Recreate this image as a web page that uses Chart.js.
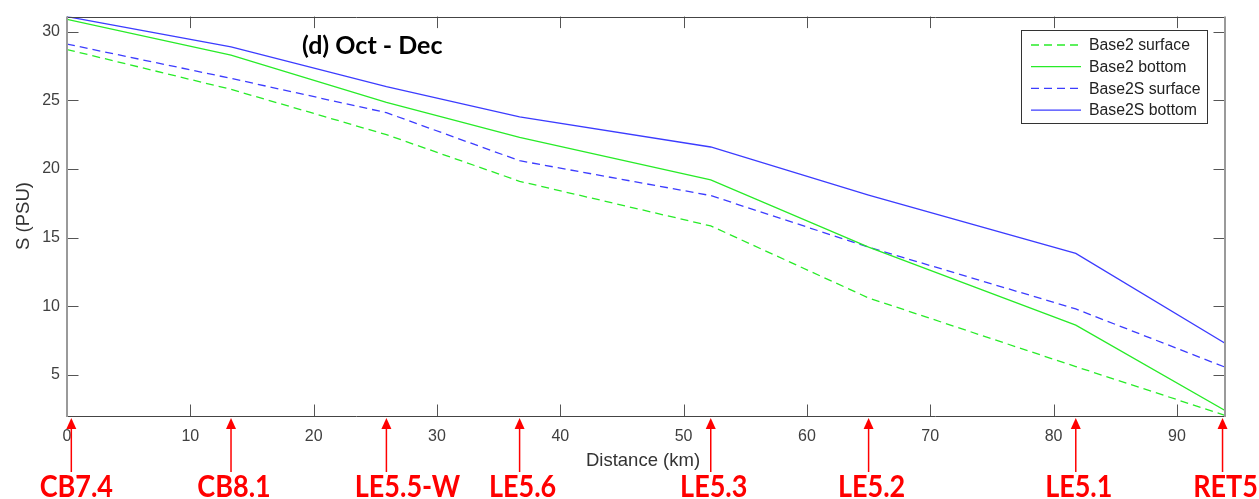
<!DOCTYPE html>
<html>
<head>
<meta charset="utf-8">
<script src="https://cdn.jsdelivr.net/npm/chart.js@4.4.1/dist/chart.umd.min.js"></script>
<style>
html, body { margin: 0; padding: 0; background: #fff; }
#wrap { width: 1259px; height: 499px; }
</style>
</head>
<body>
<div id="wrap"><canvas id="myChart" width="1259" height="499"></canvas></div>
<script>
// values
var distanceKm = [0, 13.3, 25.9, 36.7, 52.2, 65.0, 81.8, 93.9];
var base2Surface = [28.7, 25.8, 22.5, 19.1, 15.85, 10.6, 5.6, 2.05];
var base2Bottom = [30.9, 28.3, 24.85, 22.3, 19.2, 14.3, 8.62, 2.4];
var base2SSurface = [29.1, 26.6, 24.1, 20.6, 18.06, 14.3, 9.8, 5.56];
var base2SBottom = [31.1, 28.9, 26.0, 23.8, 21.6, 18.1, 13.85, 7.3];

var stationNames = ['CB7.4', 'CB8.1', 'LE5.5-W', 'LE5.6', 'LE5.3', 'LE5.2', 'LE5.1', 'RET5'];
var stationKm = [0.35, 13.3, 25.9, 36.7, 52.2, 65.0, 81.8, 93.7];

var xTicks = [0, 10, 20, 30, 40, 50, 60, 70, 80, 90];
var yTicks = [5, 10, 15, 20, 25, 30];

var GREEN = 'rgb(40,235,40)';
var BLUE = 'rgb(60,60,255)';

function toPoints(ys) {
    return distanceKm.map(function (x, i) { return { x: x, y: ys[i] }; });
}

// axes box, inward ticks, titles, legend and station arrows
var figurePlugin = {
    id: 'figure',
    afterDatasetsDraw: function (chart) {
        var ctx = chart.ctx;
        var a = chart.chartArea;
        var xs = chart.scales.x, ys = chart.scales.y;
        var tl = 11.5;
        ctx.save();

        // ticks
        ctx.strokeStyle = '#555';
        ctx.lineWidth = 1;
        ctx.beginPath();
        xTicks.forEach(function (v) {
            var px = Math.round(xs.getPixelForValue(v)) + 0.5;
            ctx.moveTo(px, a.bottom); ctx.lineTo(px, a.bottom - tl);
            ctx.moveTo(px, a.top); ctx.lineTo(px, a.top + tl);
        });
        yTicks.forEach(function (v) {
            var py = Math.round(ys.getPixelForValue(v)) + 0.5;
            ctx.moveTo(a.left, py); ctx.lineTo(a.left + tl, py);
            ctx.moveTo(a.right, py); ctx.lineTo(a.right - tl, py);
        });
        ctx.stroke();

        // box
        ctx.strokeStyle = '#444';
        ctx.beginPath();
        ctx.moveTo(a.left, Math.round(a.top) + 0.5); ctx.lineTo(a.right, Math.round(a.top) + 0.5);
        ctx.moveTo(a.left, Math.round(a.bottom) + 0.5); ctx.lineTo(a.right, Math.round(a.bottom) + 0.5);
        ctx.stroke();
        ctx.strokeStyle = '#9a9a9a';
        ctx.lineWidth = 2;
        ctx.beginPath();
        ctx.moveTo(a.left, a.top); ctx.lineTo(a.left, a.bottom + 1);
        ctx.moveTo(a.right, a.top); ctx.lineTo(a.right, a.bottom + 1);
        ctx.stroke();

        // panel title
        ctx.fillStyle = '#000';
        ctx.font = 'bold 25px Lato';
        ctx.textAlign = 'left';
        ctx.textBaseline = 'middle';
        ctx.fillText('(d) Oct - Dec', 302, 46);

        // axis titles
        ctx.fillStyle = '#333';
        ctx.font = '18.5px "Liberation Sans"';
        ctx.textAlign = 'center';
        ctx.fillText('Distance (km)', 643, 461);
        ctx.save();
        ctx.translate(24, 216);
        ctx.rotate(-Math.PI / 2);
        ctx.fillText('S (PSU)', 0, 0);
        ctx.restore();

        // legend
        var lx = 1021, ly = 30, lw = 186, lh = 93;
        ctx.fillStyle = '#fff';
        ctx.fillRect(lx, ly, lw, lh);
        ctx.strokeStyle = '#333';
        ctx.lineWidth = 1;
        ctx.strokeRect(lx + 0.5, ly + 0.5, lw, lh);
        ctx.font = '15.8px "Liberation Sans"';
        ctx.textAlign = 'left';
        ctx.fillStyle = '#222';
        chart.data.datasets.forEach(function (ds, i) {
            var y = 45 + i * 21.7;
            ctx.strokeStyle = ds.borderColor;
            ctx.lineWidth = 1.3;
            ctx.setLineDash(ds.borderDash || []);
            ctx.beginPath();
            ctx.moveTo(1031, y); ctx.lineTo(1081, y);
            ctx.stroke();
            ctx.setLineDash([]);
            ctx.fillText(ds.label, 1089, y + 1);
        });

        // station arrows
        var labelShift = { 'CB7.4': 5, 'LE5.5-W': 21 };
        ctx.strokeStyle = '#ff0000';
        ctx.fillStyle = '#ff0000';
        ctx.lineWidth = 1.5;
        ctx.font = 'bold 30px Lato';
        ctx.textAlign = 'center';
        ctx.textBaseline = 'alphabetic';
        stationKm.forEach(function (km, i) {
            var px = xs.getPixelForValue(km);
            ctx.beginPath();
            ctx.moveTo(px, 427); ctx.lineTo(px, 472);
            ctx.stroke();
            ctx.beginPath();
            ctx.moveTo(px, 418); ctx.lineTo(px - 5, 429); ctx.lineTo(px + 5, 429);
            ctx.closePath();
            ctx.fill();
            var name = stationNames[i];
            var shift = labelShift[name] !== undefined ? labelShift[name] : 3;
            ctx.save();
            ctx.translate(px + shift, 497);
            ctx.scale(0.9, 1);
            ctx.fillText(name, 0, 0);
            ctx.restore();
        });

        ctx.restore();
    }
};

var ctx = document.getElementById('myChart').getContext('2d');
var myChart = new Chart(ctx, {
    type: 'line',
    data: {
        datasets: [{
            label: 'Base2 surface',
            data: toPoints(base2Surface),
            borderColor: GREEN,
            borderDash: [8, 5]
        }, {
            label: 'Base2 bottom',
            data: toPoints(base2Bottom),
            borderColor: GREEN
        }, {
            label: 'Base2S surface',
            data: toPoints(base2SSurface),
            borderColor: BLUE,
            borderDash: [8, 5]
        }, {
            label: 'Base2S bottom',
            data: toPoints(base2SBottom),
            borderColor: BLUE
        }]
    },
    options: {
        responsive: false,
        animation: false,
        devicePixelRatio: 1,
        layout: { padding: { left: 0, top: 12, right: 34, bottom: 0 } },
        elements: {
            line: { borderWidth: 1.3, tension: 0, fill: false },
            point: { radius: 0 }
        },
        plugins: {
            legend: { display: false },
            tooltip: { enabled: false }
        },
        scales: {
            x: {
                type: 'linear',
                min: 0,
                max: 93.9,
                grid: { display: false, drawTicks: false },
                border: { display: false },
                afterBuildTicks: function (s) { s.ticks = xTicks.map(function (v) { return { value: v }; }); },
                afterFit: function (s) { s.height = 83; },
                ticks: { color: '#404040', font: { family: 'Liberation Sans', size: 16 }, padding: 11, maxRotation: 0 }
            },
            y: {
                type: 'linear',
                min: 2,
                max: 31.1,
                grid: { display: false, drawTicks: false },
                border: { display: false },
                afterBuildTicks: function (s) { s.ticks = yTicks.map(function (v) { return { value: v }; }); },
                afterFit: function (s) { s.width = 67; },
                ticks: { color: '#404040', font: { family: 'Liberation Sans', size: 16 }, padding: 7 }
            }
        }
    },
    plugins: [figurePlugin]
});
</script>
</body>
</html>
